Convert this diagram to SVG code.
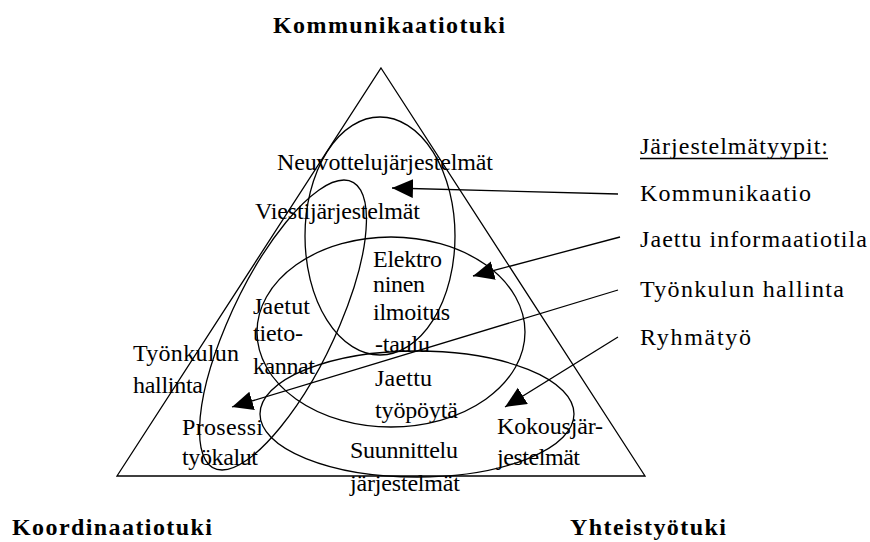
<svg xmlns="http://www.w3.org/2000/svg" width="870" height="542" viewBox="0 0 870 542">
<defs>
<style>
.t{font-family:"Liberation Serif","Times New Roman",serif;font-size:24px;fill:#000}
.b{font-family:"Liberation Serif","Times New Roman",serif;font-size:24px;font-weight:bold;fill:#000}
.s{fill:none;stroke:#000;stroke-width:1.3}
.c{fill:none;stroke:#000;stroke-width:1.3}
</style>
<marker id="ah" markerUnits="userSpaceOnUse" markerWidth="23" markerHeight="20" refX="21" refY="9.5" orient="auto" viewBox="0 0 23 20"><path d="M0,0 L21,9.5 L0,19 z" fill="#000"/></marker>
</defs>
<rect width="870" height="542" fill="#fff"/>
<g id="triangle"><polygon class="s" points="381,68 645,476 117,476"/></g>
<g id="ellipse-kommunikaatio"><ellipse class="s" cx="380" cy="236" rx="75" ry="119"/></g>
<g id="ellipse-jaettu"><ellipse class="s" cx="391" cy="332" rx="134" ry="95"/></g>
<g id="ellipse-tyonkulku"><ellipse class="s" cx="0" cy="0" rx="57" ry="145" transform="translate(283,325) skewX(-22.8)" vector-effect="non-scaling-stroke"/></g>
<g id="ellipse-ryhmatyo"><ellipse class="s" cx="417" cy="414" rx="157" ry="63"/></g>
<g id="titles">
<text class="b" x="273" y="33" textLength="232">Kommunikaatiotuki</text>
<text class="b" x="12" y="535" textLength="200">Koordinaatiotuki</text>
<text class="b" x="570" y="535" textLength="156">Yhteistyötuki</text>
</g>
<g id="legend">
<text class="t" x="640" y="154" textLength="188">Järjestelmätyypit:</text>
<line x1="640" y1="158.5" x2="828" y2="158.5" stroke="#000" stroke-width="1.3"/>
<text class="t" x="640" y="201" textLength="171">Kommunikaatio</text>
<text class="t" x="640" y="247" textLength="227">Jaettu informaatiotila</text>
<text class="t" x="640" y="297" textLength="204">Työnkulun hallinta</text>
<text class="t" x="640" y="345" textLength="111">Ryhmätyö</text>
</g>
<g id="labels">
<text class="t" x="277" y="170" textLength="216">Neuvottelujärjestelmät</text>
<text class="t" x="255" y="219" textLength="165">Viestijärjestelmät</text>
<text class="t" x="373" y="267" textLength="69">Elektro</text>
<text class="t" x="373" y="292" textLength="52">ninen</text>
<text class="t" x="373" y="320" textLength="77">ilmoitus</text>
<text class="t" x="375" y="352" textLength="55">-taulu</text>
<text class="t" x="375" y="386" textLength="57">Jaettu</text>
<text class="t" x="375" y="418" textLength="83">työpöytä</text>
<text class="t" x="253" y="314" textLength="57">Jaetut</text>
<text class="t" x="253" y="341" textLength="50">tieto-</text>
<text class="t" x="253" y="374" textLength="62">kannat</text>
<text class="t" x="133" y="361" textLength="106">Työnkulun</text>
<text class="t" x="133" y="393" textLength="70">hallinta</text>
<text class="t" x="182" y="435" textLength="81">Prosessi</text>
<text class="t" x="182" y="465" textLength="76">työkalut</text>
<text class="t" x="350" y="458" textLength="108">Suunnittelu</text>
<text class="t" x="350" y="491" textLength="110">järjestelmät</text>
<text class="t" x="497" y="434" textLength="106">Kokousjär-</text>
<text class="t" x="497" y="465" textLength="83">jestelmät</text>
</g>
<g id="connectors">
<line class="c" x1="618" y1="194" x2="392" y2="188" marker-end="url(#ah)"/>
<line class="c" x1="620" y1="237" x2="473" y2="276" marker-end="url(#ah)"/>
<line class="c" x1="618" y1="290" x2="232" y2="407" marker-end="url(#ah)"/>
<line class="c" x1="618" y1="337" x2="505" y2="407" marker-end="url(#ah)"/>
</g>
</svg>
